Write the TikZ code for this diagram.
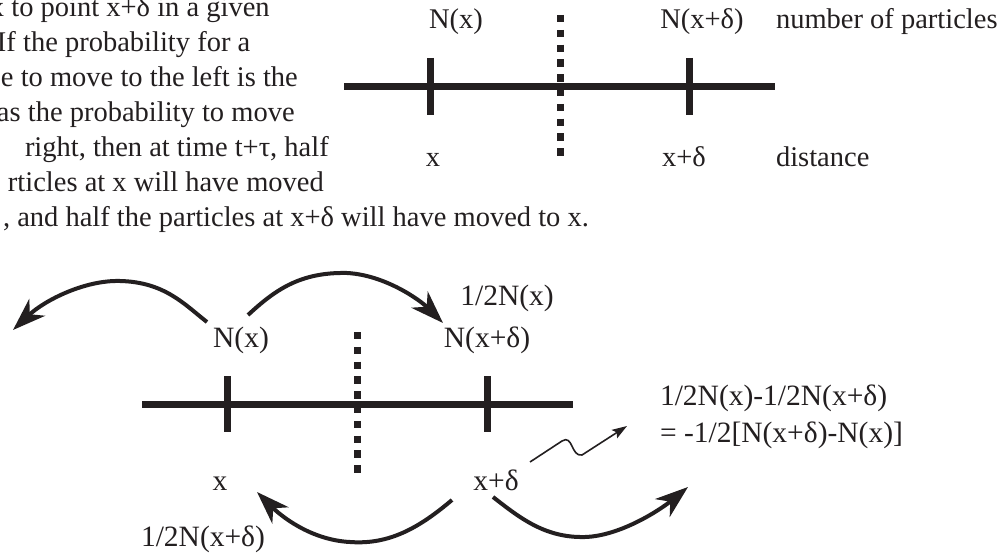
\documentclass[tikz,border=0pt]{standalone}
\usepackage{fontspec}
\setmainfont{Liberation Serif}
\usetikzlibrary{arrows.meta}
\definecolor{ink}{RGB}{35,31,32}
\tikzset{
  txt/.style={inner sep=0pt, outer sep=0pt, text=ink, font=\fontsize{28.5}{35}\selectfont},
  big/.style={font=\fontsize{29.5}{36}\selectfont},
  lb/.style={txt, anchor=base},
  lbw/.style={txt, anchor=base west},
  axisline/.style={draw=ink, line width=7pt},
  dotline/.style={draw=ink, line width=7pt, dash pattern=on 7.4pt off 7.4pt},
  jump/.style={draw=ink, line width=4pt, -{Stealth[length=33pt,width=23pt,inset=10pt]}},
  squiggle/.style={draw=ink, line width=1.6pt, -{Stealth[length=15pt,width=10pt,inset=3pt]}}
}
\begin{document}
\begin{tikzpicture}[x=1pt,y=-1pt]
\useasboundingbox (0,0) rectangle (1003,553);
\clip (0,0) rectangle (1003,553);
\fill[white] (0,0) rectangle (1003,553);

% ---------- paragraph (cut at left edge) ----------
\node[lbw] (p1) at (-10,17)  {x to point x+δ in a given};
\node[lbw] (p2) at (-3,52)   {If the probability for a};
\node[lbw] (p3) at (1,87)    {e to move to the left is the};
\node[lbw] (p4) at (-3,122)  {as the probability to move};
\node[lbw] (p5) at (25,157)  {right, then at time t+τ, half};
\node[lbw] (p6) at (8,192)   {rticles at x will have moved};
\node[lbw] (p7) at (3,227)   {, and half the particles at x+δ will have moved to x.};

% ---------- top diagram ----------
\coordinate (aL) at (344,87);
\coordinate (aR) at (775,87);
\coordinate (t1a) at (430,58);
\coordinate (t1b) at (430,115);
\coordinate (t2a) at (689,58);
\coordinate (t2b) at (689,115);
\coordinate (d1a) at (560,15);
\coordinate (d1b) at (560,156);
\draw[axisline] (aL) -- (aR);
\draw[axisline] (t1a) -- (t1b);
\draw[axisline] (t2a) -- (t2b);
\draw[dotline] (d1a) -- (d1b);

\node[lb] (nx) at (456,29) {N(x)};
\node[lb] (nxd) at (702,29) {N(x+δ)};
\node[lbw] (np) at (776,29) {number of particles};
\node[lb] (x1) at (433,167) {x};
\node[lb] (xd1) at (684,167) {x+δ};
\node[lbw] (dist) at (776,167) {distance};

% ---------- bottom diagram ----------
\coordinate (bL) at (142,404);
\coordinate (bR) at (573,404);
\coordinate (s1a) at (227,376);
\coordinate (s1b) at (227,432);
\coordinate (s2a) at (487,376);
\coordinate (s2b) at (487,432);
\coordinate (d2a) at (357,332);
\coordinate (d2b) at (357,473);
\draw[axisline] (bL) -- (bR);
\draw[axisline] (s1a) -- (s1b);
\draw[axisline] (s2a) -- (s2b);
\draw[dotline] (d2a) -- (d2b);

\node[lb,big] (bnx) at (241,347) {N(x)};
\node[lb,big] (bnxd) at (487,347) {N(x+δ)};
\node[lb,big] (half1) at (507,305) {1/2N(x)};
\node[lb,big] (bx) at (220,490) {x};
\node[lb,big] (bxd) at (496,490) {x+δ};
\node[lbw,big] (half2) at (141,546) {1/2N(x+δ)};
\node[lbw,big] (eq1) at (660,405) {1/2N(x)-1/2N(x+δ)};
\node[lbw,big] (eq2) at (660,442) {= -1/2[N(x+δ)-N(x)]};

% arrow end points
\coordinate (a1s) at (207,322);
\coordinate (a1e) at (13,330);
\coordinate (a2s) at (248,315);
\coordinate (a2e) at (443,323);
\coordinate (a3s) at (452,500);
\coordinate (a3e) at (257,492);
\coordinate (a4s) at (493,497);
\coordinate (a4e) at (688,487);
\coordinate (ws) at (530,462);
\coordinate (we) at (627,426);

\draw[jump] (a1s) .. controls (185,305) and (165,282) .. (120,281)
                  .. controls (85,280) and (45,300) .. (a1e);
\draw[jump] (a2s) .. controls (275,290) and (300,272) .. (347,273)
                  .. controls (385,275) and (420,300) .. (a2e);
\draw[jump] (a3s) .. controls (420,527) and (390,545) .. (350,542)
                  .. controls (310,540) and (280,515) .. (a3e);
\draw[jump] (a4s) .. controls (520,518) and (545,538) .. (585,537)
                  .. controls (620,536) and (660,510) .. (a4e);
\draw[squiggle] (ws) -- (562,441) .. controls (573,434) and (571,457) .. (582,455) -- (we);
\end{tikzpicture}
\end{document}
